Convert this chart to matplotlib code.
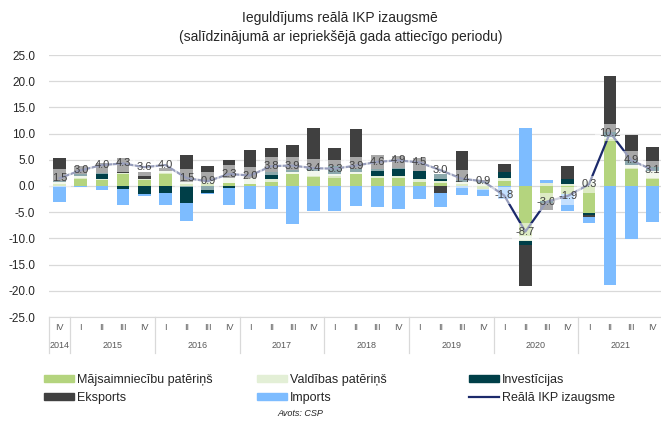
import numpy as np
import matplotlib
matplotlib.use('Agg')
import matplotlib.pyplot as plt
import matplotlib.transforms as mtransforms
from matplotlib.patches import Patch
from matplotlib.lines import Line2D

plt.rcParams['font.family'] = ['Liberation Sans', 'DejaVu Sans']

quarters = ['IV'] + ['I', 'II', 'III', 'IV'] * 7
years = ['2014', '2015', '2016', '2017', '2018', '2019', '2020', '2021']

# contributions, percentage points
majsaimn = [0.4, 1.6, 1.1, 2.2, 1.1, 2.5, 0.3, 0.5, 0.6, 0.4, 0.8, 2.2, 1.9, 1.9, 2.3,
            1.6, 1.5, 0.8, 0.5, 0.4, -0.6, 1.0, -9.5, -2.8, -1.5, -5.1, 8.9, 3.5, 1.6]
valdibas = [0.4, 0.3, 0.3, 0.2, 0.3, 0.3, 0.5, 0.6, 1.0, 1.2, 0.6, 0.5, 0.9, 0.4, 0.4,
            0.3, 0.4, 0.6, 0.4, 0.3, 0.6, 0.5, -1.0, 0.5, 0.4, 0.9, 0.5, 0.5, 1.3]
investicijas = [0.2, 0.3, 1.0, -0.5, -1.6, -1.4, -3.3, -1.3, -0.3, 0.0, 1.2, 0.3, 0.7, 1.5, 0.5,
                1.3, 1.6, 1.5, 1.4, 0.4, 0.2, 1.1, -0.8, -0.5, 0.9, -0.5, 1.0, 1.0, 0.8]
eksports = [4.4, 1.7, 1.9, 2.9, 1.3, 0.6, 5.2, 2.7, 3.4, 5.2, 4.6, 4.9, 7.6, 3.5, 7.7,
            2.8, 2.2, 2.5, -1.4, 5.6, 0.3, 1.6, -7.7, -1.3, 2.5, -0.3, 10.6, 4.7, 3.8]
imports = [-3.0, -0.1, -0.8, -3.1, -0.4, -2.2, -3.3, -0.2, -3.3, -4.3, -4.3, -7.3, -4.8, -4.8, -3.8,
           -4.1, -4.3, -2.5, -2.7, -1.8, -1.4, -2.5, 11.0, 0.7, -3.3, -1.1, -18.8, -10.2, -6.9]
ikp = [1.5, 3.0, 4.0, 4.3, 3.6, 4.0, 1.5, 0.9, 2.3, 2.0, 3.8, 3.9, 3.4, 3.3, 3.9,
       4.6, 4.9, 4.5, 3.0, 1.4, 0.9, -1.8, -8.7, -3.0, -1.9, 0.3, 10.2, 4.9, 3.1]

names = ['Mājsaimniecību patēriņš', 'Valdības patēriņš', 'Investīcijas', 'Eksports', 'Imports']
colors = ['#b4d47e', '#e3efd6', '#003f48', '#404040', '#7dbcff']
series = [majsaimn, valdibas, investicijas, eksports, imports]
line_color = '#1c2a6b'

fig = plt.figure(figsize=(6.61, 4.21), dpi=100)
ax = fig.add_axes([49/661, 1 - 317/421, 614/661, 262/421])

x = np.arange(len(quarters))
pos_base = np.zeros(len(x))
neg_base = np.zeros(len(x))
for vals, c in zip(series, colors):
    v = np.array(vals)
    base = np.where(v >= 0, pos_base, neg_base)
    ax.bar(x, v, 0.6, bottom=base, color=c, zorder=2)
    pos_base += np.where(v >= 0, v, 0)
    neg_base += np.where(v < 0, v, 0)

ax.plot(x, ikp, color=line_color, lw=1.6, zorder=3)
for xi, yi in zip(x, ikp):
    ax.text(xi, yi, f'{yi:.1f}', ha='center', va='center', fontsize=8, color='#404040', zorder=4,
            bbox=dict(boxstyle='square,pad=0.35', fc='white', ec='none', alpha=0.55))

ax.set_ylim(-25, 25)
ax.set_xlim(-0.5, len(x) - 0.5)
ax.set_yticks(np.arange(-25, 26, 5))
ax.set_yticklabels([f'{t:.1f}' for t in np.arange(-25, 26, 5)], fontsize=8.5, color='#262626')
ax.yaxis.grid(True, color='#d9d9d9', lw=0.9, zorder=0)
ax.set_axisbelow(True)
ax.tick_params(axis='y', length=0, pad=10)
ax.tick_params(axis='x', length=0, labelbottom=False)
for s in ['top', 'right', 'left']:
    ax.spines[s].set_visible(False)
ax.spines['bottom'].set_color('#d9d9d9')

# category axis: quarters and years
trans = mtransforms.blended_transform_factory(ax.transData, ax.transAxes)
qy = -10 / 262
yy = -28 / 262
for xi, q in zip(x, quarters):
    ax.text(xi, qy, q, transform=trans, ha='center', va='center', fontsize=6.5, color='#595959')
year_pos = [0] + [2.5 + 4 * i for i in range(7)]
for xp, yr in zip(year_pos, years):
    ax.text(xp, yy, yr, transform=trans, ha='center', va='center', fontsize=6.5, color='#595959')
for b in [-0.5, 0.5, 4.5, 8.5, 12.5, 16.5, 20.5, 24.5]:
    ax.plot([b, b], [0, -36 / 262], transform=trans, color='#d9d9d9', lw=0.9, clip_on=False)

fig.text(340/661, 1 - 18/421, 'Ieguldījums reālā IKP izaugsmē', ha='center', va='center',
         fontsize=10, color='#262626')
fig.text(341/661, 1 - 37/421, '(salīdzinājumā ar iepriekšējā gada attiecīgo periodu)',
         ha='center', va='center', fontsize=10, color='#262626')

handles = [Patch(color=c) for c in colors] + [Line2D([], [], color=line_color, lw=1.6)]
labels = names + ['Reālā IKP izaugsme']
col_x = [38, 251, 463]
order = [[0, 3], [1, 4], [2, 5]]
for cx, idx in zip(col_x, order):
    fig.legend([handles[i] for i in idx], [labels[i] for i in idx], loc='upper left',
               bbox_to_anchor=(cx/661, 1 - 368/421), frameon=False, fontsize=9,
               handlelength=2.4, handleheight=0.45, handletextpad=0.2, labelspacing=0.45,
               borderpad=0, labelcolor='#262626')

fig.text(300/661, 1 - 413/421, 'Avots: CSP', ha='center', va='center', fontsize=6.5,
         style='italic', color='#262626')

fig.savefig('out.png', dpi=100)
